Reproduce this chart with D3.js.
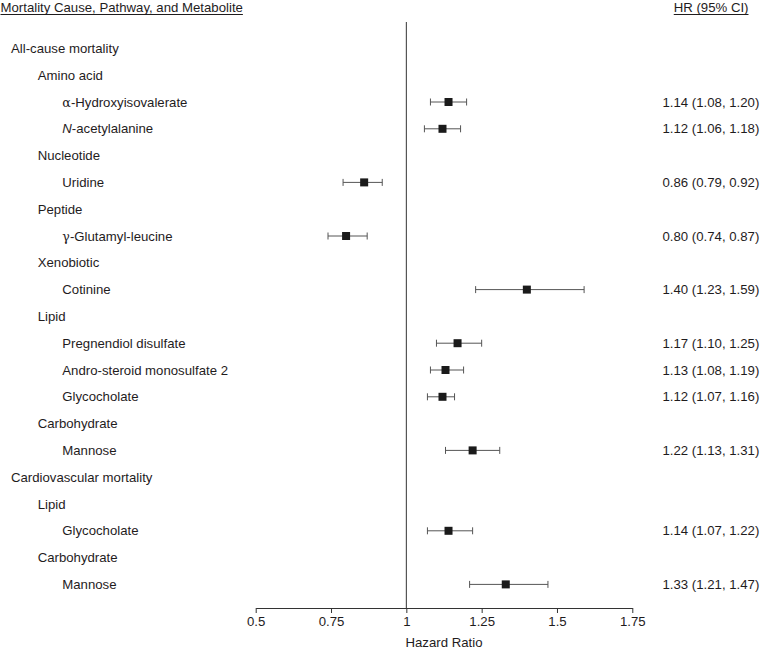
<!DOCTYPE html>
<html>
<head>
<meta charset="utf-8">
<script src="https://cdn.jsdelivr.net/npm/d3@7"></script>
<style>
  body { margin: 0; background: #fff; }
  svg { display: block; }
  text { font-family: "Liberation Sans", Arial, Helvetica, sans-serif; fill: #1f1c1d; }
</style>
</head>
<body>
<svg id="chart" width="760" height="649"></svg>
<script>
// ---- data ----
const rowLabels = [
  "All-cause mortality", "Amino acid", "α-Hydroxyisovalerate", "N-acetylalanine",
  "Nucleotide", "Uridine", "Peptide", "γ-Glutamyl-leucine",
  "Xenobiotic", "Cotinine", "Lipid", "Pregnendiol disulfate",
  "Andro-steroid monosulfate 2", "Glycocholate", "Carbohydrate", "Mannose",
  "Cardiovascular mortality", "Lipid", "Glycocholate", "Carbohydrate", "Mannose"
];
const rowLevels = [0, 1, 2, 2, 1, 2, 1, 2, 1, 2, 1, 2, 2, 2, 1, 2, 0, 1, 2, 1, 2];
const hrValues  = [null, null, 1.14, 1.12, null, 0.86, null, 0.80, null, 1.40, null, 1.17, 1.13, 1.12, null, 1.22, null, null, 1.14, null, 1.33];
const ciLow     = [null, null, 1.08, 1.06, null, 0.79, null, 0.74, null, 1.23, null, 1.10, 1.08, 1.07, null, 1.13, null, null, 1.07, null, 1.21];
const ciHigh    = [null, null, 1.20, 1.18, null, 0.92, null, 0.87, null, 1.59, null, 1.25, 1.19, 1.16, null, 1.31, null, null, 1.22, null, 1.47];
const tickValues = [0.5, 0.75, 1, 1.25, 1.5, 1.75];
const tickLabels = ["0.5", "0.75", "1", "1.25", "1.5", "1.75"];
const headerLeft = "Mortality Cause, Pathway, and Metabolite";
const headerRight = "HR (95% CI)";
const xTitle = "Hazard Ratio";

// ---- chart ----
const svg = d3.select("#chart");
const fs = 13.2;
const x = d3.scaleLinear().domain([0.5, 1.75]).range([255.7, 632.3]);
const y = d3.scaleLinear().domain([0, rowLabels.length - 1]).range([48.4, 584.4]);
const indent = [11, 37.7, 62.3];
const axisY = 608;
const fmt = d3.format(".2f");

const rows = rowLabels.map((label, i) => ({
  label, level: rowLevels[i], hr: hrValues[i], lo: ciLow[i], hi: ciHigh[i], i
}));

// headers
function underlined(txt, xPos, anchor) {
  const t = svg.append("text").attr("x", xPos).attr("y", 7.5).attr("dy", "0.35em")
    .attr("font-size", fs).attr("text-anchor", anchor).text(txt);
  const w = t.node().getComputedTextLength();
  const x0 = anchor === "end" ? xPos - w : xPos;
  svg.append("line").attr("x1", x0).attr("x2", x0 + w).attr("y1", 14.5).attr("y2", 14.5)
    .attr("stroke", "#1f1c1d").attr("stroke-width", 1);
}
underlined(headerLeft, 0.5, "start");
underlined(headerRight, 748.5, "end");

// reference line at HR = 1
svg.append("line")
  .attr("x1", x(1)).attr("x2", x(1)).attr("y1", 22).attr("y2", axisY)
  .attr("stroke", "#333").attr("stroke-width", 1);

// labels
const lab = svg.append("g").selectAll("text").data(rows).join("text")
  .attr("x", d => indent[d.level]).attr("y", d => y(d.i)).attr("dy", "0.35em")
  .attr("font-size", fs);
lab.each(function(d) {
  const t = d3.select(this);
  if (d.label.startsWith("α") || d.label.startsWith("γ")) {
    t.append("tspan").attr("font-family", "'DejaVu Serif', serif").attr("font-size", fs - 0.5).text(d.label[0]);
    t.append("tspan").text(d.label.slice(1));
  } else if (d.label.startsWith("N-")) {
    t.append("tspan").attr("font-style", "italic").text("N");
    t.append("tspan").text(d.label.slice(1));
  } else {
    t.text(d.label);
  }
});

const est = rows.filter(d => d.hr != null);

// CI lines
const g = svg.append("g");
g.selectAll("line.ci").data(est).join("line").attr("class", "ci")
  .attr("x1", d => x(d.lo)).attr("x2", d => x(d.hi))
  .attr("y1", d => y(d.i)).attr("y2", d => y(d.i))
  .attr("stroke", "#555").attr("stroke-width", 1);
g.selectAll("line.capl").data(est).join("line").attr("class", "capl")
  .attr("x1", d => x(d.lo)).attr("x2", d => x(d.lo))
  .attr("y1", d => y(d.i) - 3.5).attr("y2", d => y(d.i) + 3.5)
  .attr("stroke", "#555").attr("stroke-width", 1);
g.selectAll("line.caph").data(est).join("line").attr("class", "caph")
  .attr("x1", d => x(d.hi)).attr("x2", d => x(d.hi))
  .attr("y1", d => y(d.i) - 3.5).attr("y2", d => y(d.i) + 3.5)
  .attr("stroke", "#555").attr("stroke-width", 1);
const sq = 8;
g.selectAll("rect").data(est).join("rect")
  .attr("x", d => x(d.hr) - sq / 2).attr("y", d => y(d.i) - sq / 2)
  .attr("width", sq).attr("height", sq).attr("fill", "#1a1a1a");

// HR text
svg.append("g").selectAll("text").data(est).join("text")
  .attr("x", 662.5).attr("y", d => y(d.i)).attr("dy", "0.35em").attr("font-size", fs)
  .text(d => `${fmt(d.hr)} (${fmt(d.lo)}, ${fmt(d.hi)})`);

// axis
const axis = svg.append("g").attr("transform", `translate(0,${axisY})`)
  .call(d3.axisBottom(x).tickValues(tickValues).tickFormat((d, i) => tickLabels[i])
    .tickSize(5).tickSizeOuter(0).tickPadding(4));
axis.select(".domain").attr("stroke", "#333");
axis.selectAll(".tick line").attr("stroke", "#333");
axis.selectAll(".tick text").attr("font-size", fs).attr("fill", "#1f1c1d")
  .attr("font-family", "'Liberation Sans', Arial, sans-serif");

svg.append("text").attr("x", x(1.125)).attr("y", 642).attr("dy", "0.35em")
  .attr("text-anchor", "middle").attr("font-size", fs).text(xTitle);
</script>
</body>
</html>
